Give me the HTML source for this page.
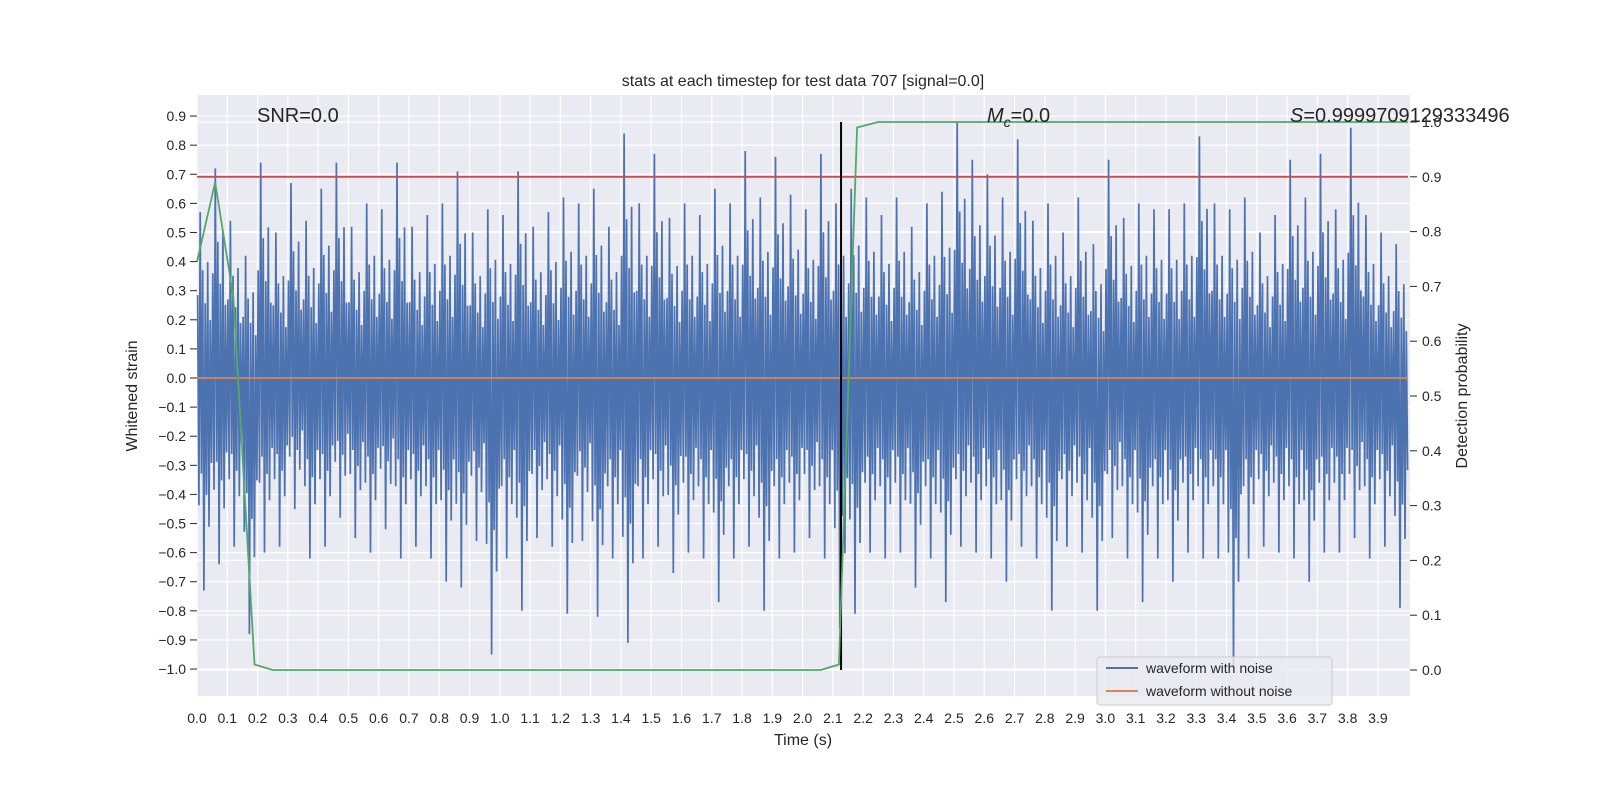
<!DOCTYPE html>
<html><head><meta charset="utf-8"><style>
html,body{margin:0;padding:0;background:#fff;width:1600px;height:800px;overflow:hidden}
svg text{font-family:"Liberation Sans","DejaVu Sans",sans-serif;fill:#262626}
</style></head><body>
<svg id="chart" width="1600" height="800" xmlns="http://www.w3.org/2000/svg">
<text x="803" y="86" font-size="16" text-anchor="middle">stats at each timestep for test data 707 [signal=0.0]</text>
<rect x="197" y="95" width="1213" height="601" fill="#eaeaf2"/>
<g id="grid"></g><g id="noise"></g><g id="lines"></g><g id="axes"></g>
<text x="257" y="122" font-size="20">SNR=0.0</text>
<text x="987" y="122" font-size="20"><tspan font-style="italic">M</tspan><tspan font-size="14" font-style="italic" dy="5">c</tspan><tspan dy="-5">=0.0</tspan></text>
<text x="1290" y="122" font-size="20"><tspan font-style="italic">S</tspan>=0.9999709129333496</text>
<text x="803" y="745" font-size="16" text-anchor="middle">Time (s)</text>
<text transform="translate(137,396) rotate(-90)" font-size="16" text-anchor="middle">Whitened strain</text>
<text transform="translate(1467,396) rotate(-90)" font-size="16" text-anchor="middle">Detection probability</text>
<g>
<rect x="1097" y="657" width="235" height="48" rx="3" fill="#eaeaf2" fill-opacity="0.8" stroke="#cccccc"/>
<line x1="1106" y1="668" x2="1138" y2="668" stroke="#4c72b0" stroke-width="2"/>
<text x="1146" y="673" font-size="14">waveform with noise</text>
<line x1="1106" y1="691" x2="1138" y2="691" stroke="#dd8452" stroke-width="2"/>
<text x="1146" y="696" font-size="14">waveform without noise</text>
</g>
</svg>
<script>
// data
const xTicks=[0,0.1,0.2,0.3,0.4,0.5,0.6,0.7,0.8,0.9,1.0,1.1,1.2,1.3,1.4,1.5,1.6,1.7,1.8,1.9,2.0,2.1,2.2,2.3,2.4,2.5,2.6,2.7,2.8,2.9,3.0,3.1,3.2,3.3,3.4,3.5,3.6,3.7,3.8,3.9];
const yTicks=[0.9,0.8,0.7,0.6,0.5,0.4,0.3,0.2,0.1,0.0,-0.1,-0.2,-0.3,-0.4,-0.5,-0.6,-0.7,-0.8,-0.9,-1.0];
const y2Ticks=[0,0.1,0.2,0.3,0.4,0.5,0.6,0.7,0.8,0.9,1.0];
const noiseHi=[0.57,0.72,0.54,0.42,0.74,0.50,0.67,0.54,0.65,0.74,0.52,0.60,0.58,0.74,0.52,0.56,0.60,0.71,0.50,0.58,0.56,0.71,0.52,0.57,0.62,0.60,0.65,0.52,0.84,0.60,0.77,0.55,0.60,0.56,0.65,0.60,0.78,0.62,0.76,0.63,0.58,0.77,0.60,0.65,0.62,0.56,0.62,0.52,0.60,0.64,0.88,0.75,0.70,0.62,0.82,0.54,0.60,0.50,0.62,0.46,0.75,0.55,0.60,0.58,0.58,0.60,0.83,0.60,0.58,0.62,0.50,0.56,0.75,0.62,0.77,0.58,0.86,0.56,0.50,0.46];
const noiseLo=[-0.73,-0.64,-0.58,-0.88,-0.60,-0.58,-0.45,-0.62,-0.58,-0.48,-0.55,-0.60,-0.52,-0.62,-0.58,-0.62,-0.70,-0.72,-0.56,-0.95,-0.62,-0.80,-0.55,-0.58,-0.81,-0.56,-0.82,-0.62,-0.91,-0.62,-0.58,-0.67,-0.60,-0.62,-0.77,-0.62,-0.58,-0.80,-0.62,-0.60,-0.55,-0.62,-0.86,-0.81,-0.60,-0.62,-0.60,-0.72,-0.62,-0.77,-0.58,-0.60,-0.62,-0.70,-0.58,-0.62,-0.80,-0.58,-0.60,-0.80,-0.55,-0.62,-0.77,-0.62,-0.70,-0.60,-0.62,-0.62,-1.0,-0.62,-0.58,-0.60,-0.62,-0.70,-0.60,-0.60,-0.55,-0.62,-0.58,-0.79];
const probT=[0,0.06,0.12,0.19,0.25,2.06,2.12,2.18,2.25,4.0];
const probV=[0.745,0.89,0.68,0.01,0.0,0.0,0.01,0.99,1.0,1.0];
const threshold=0.9;
const eventTime=2.127;
const cleanValue=0.0;
// scales
const X=t=>197+t*302.8;
const Y=v=>378-v*291.05;
const Y2=p=>670-p*548;
const NS="http://www.w3.org/2000/svg";
function mk(tag,attrs,parent){const e=document.createElementNS(NS,tag);for(const k in attrs)e.setAttribute(k,attrs[k]);parent.appendChild(e);return e;}
const grid=document.getElementById('grid'),axes=document.getElementById('axes'),noise=document.getElementById('noise'),lines=document.getElementById('lines');
xTicks.forEach(t=>{const x=X(t);
 const g=mk('line',{x1:x,x2:x,y1:95,y2:696,stroke:'#fff','stroke-width':1.2},grid);
 
 
 const tx=mk('text',{x:x,y:723,'font-size':14,'text-anchor':'middle'},axes);tx.textContent=t.toFixed(1);
 
 
});
yTicks.forEach(v=>{const y=Y(v);
 const g=mk('line',{x1:197,x2:1410,y1:y,y2:y,stroke:'#fff','stroke-width':1.2},grid);
 
 
 mk('line',{x1:190,x2:197,y1:y,y2:y,stroke:'#262626','stroke-width':1},axes);
 const tx=mk('text',{x:186,y:y+5,'font-size':14,'text-anchor':'end'},axes);tx.textContent=(v<0?'\u2212'+(-v).toFixed(1):v.toFixed(1));
 
 
});
y2Ticks.forEach(p=>{const y=Y2(p);
 const g=mk('line',{x1:197,x2:1410,y1:y,y2:y,stroke:'#fff','stroke-width':1.2},grid);
 
 
 mk('line',{x1:1410,x2:1417,y1:y,y2:y,stroke:'#262626','stroke-width':1},axes);
 const tx=mk('text',{x:1422,y:y+5,'font-size':14},axes);tx.textContent=p.toFixed(1);
 
 
});
// noise texture
const pat=[0.5,-0.6,1,-0.45,0.65,-1,0.45,-0.55,0.7,-0.7,0.35,-0.4];
const bw=4.0/noiseHi.length;let pts=[];
noiseHi.forEach((h,i)=>{const l=noiseLo[i];pat.forEach((f,j)=>{const t=i*bw+(j+0.5)*bw/pat.length;pts.push(X(t).toFixed(1)+','+Y(f>0?h*f:-l*f).toFixed(1));});});
const nl=mk('polyline',{points:pts.join(' '),fill:'none',stroke:'#4c72b0','stroke-width':1.7},noise);


const cl=mk('line',{x1:X(0),x2:X(4),y1:Y(cleanValue),y2:Y(cleanValue),stroke:'#dd8452','stroke-width':1.8},lines);


const th=mk('line',{x1:X(0),x2:X(4),y1:Y2(threshold),y2:Y2(threshold),stroke:'#c44e52','stroke-width':1.8},lines);


const ev=mk('line',{x1:X(eventTime),x2:X(eventTime),y1:Y2(1),y2:Y2(0),stroke:'#000','stroke-width':2},lines);


const pp=mk('polyline',{points:probT.map((t,i)=>X(t)+','+Y2(probV[i])).join(' '),fill:'none',stroke:'#55a868','stroke-width':1.8},lines);


</script>
</body></html>
